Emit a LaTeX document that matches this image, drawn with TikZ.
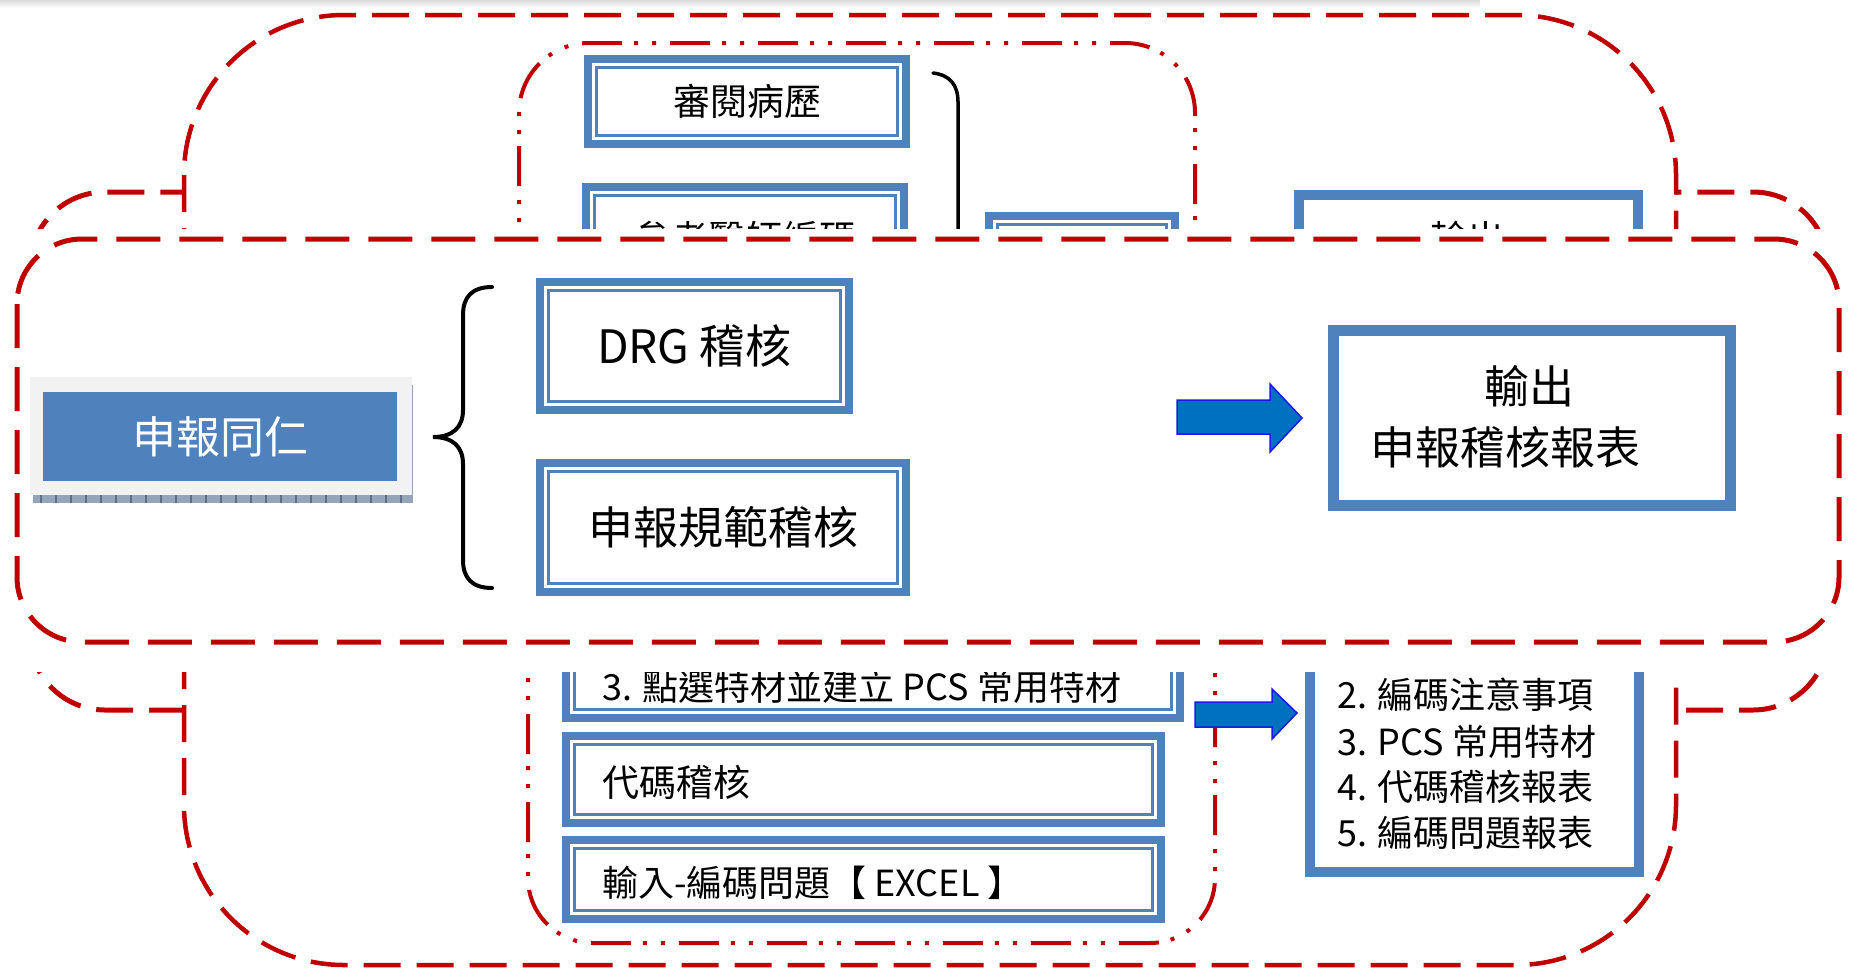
\documentclass[tikz,border=0pt]{standalone}
\usepackage{fontspec}
\setmainfont{Noto Sans CJK TC}
\definecolor{obl}{RGB}{79,129,189}
\definecolor{dred}{RGB}{192,0,0}
\definecolor{arf}{RGB}{0,112,192}
\definecolor{arb}{RGB}{25,25,240}
\definecolor{frm}{RGB}{242,242,242}
\definecolor{shd}{RGB}{150,164,186}
\definecolor{shdk}{RGB}{95,110,135}
\newcommand{\fsz}[1]{\fontsize{#1pt}{#1pt}\selectfont}
\tikzset{
  dashout/.style={draw=dred, line width=4.5pt, dash pattern=on 37pt off 16pt},
  dashmid/.style={draw=dred, line width=5pt, dash pattern=on 37pt off 16pt},
  dashov/.style={draw=dred, line width=5pt, dash pattern=on 44pt off 19pt},
  dashdt/.style={draw=dred, line width=4pt, dash pattern=on 40pt off 12pt on 4pt off 14pt on 4pt off 14pt},
  dblbox/.style={draw=obl, fill=white, line width=8pt, inner sep=0pt, outer sep=0pt,
    path picture={\draw[obl, line width=3pt] ([shift={(8.5pt,-8.5pt)}]path picture bounding box.north west) rectangle ([shift={(-8.5pt,8.5pt)}]path picture bounding box.south east);}},
  sglbox/.style={draw=obl, fill=white, line width=10pt, inner sep=0pt, outer sep=0pt},
  blockarrow/.style={fill=arf, draw=arb, line width=1.5pt, line join=miter},
  ltxt/.style={inner sep=0pt, anchor=west},
}
\begin{document}
\begin{tikzpicture}[x=1pt,y=-1pt]
\useasboundingbox (0,0) rectangle (1851,970);
\fill[white] (0,0) rectangle (1851,970);
\shade[top color=black!14, bottom color=white] (0,0) rectangle (1480,8);
% ---------------- background layer ----------------
\draw[dashmid, rounded corners=75pt] (30,192) rectangle (1828,710);
\draw[dashout, fill=white, rounded corners=160pt] (184,15) rectangle (1676,965);
\draw[dashdt, rounded corners=70pt] (519,450) -- (519,43) -- (1195,43) -- (1195,450);
\draw[dashdt, rounded corners=65pt] (528,450) -- (528,943) -- (1215,943) -- (1215,450);
% upper boxes
\node[dblbox, minimum width=318pt, minimum height=85pt, font=\fsz{37}] (review) at (747,101.5) {審閱病歷};
\node[dblbox, minimum width=318pt, minimum height=99pt] (refbox) at (745,236.5) {};
\node[font=\fsz{37}] (reftxt) at (745,238) {參考醫師編碼};
\draw[line width=3.5pt, line cap=round] (933,73) .. controls (950,75) and (958,85) .. (958,102) -- (958,320);
\node[dblbox, minimum width=186pt, minimum height=92pt] (smallbox) at (1082,262) {};
\node[sglbox, minimum width=339pt, minimum height=210pt] (outbg) at (1468.5,300) {};
\node[font=\fsz{37}] (outbgtxt) at (1467,238) {輸出};
% lower boxes
\node[dblbox, minimum width=614pt, minimum height=114pt] (pcsbox) at (873,661) {};
\node[ltxt, font=\fsz{36}] (pcstxt) at (602,687) {3. 點選特材並建立 PCS 常用特材};
\node[dblbox, minimum width=595pt, minimum height=87pt] (codebox) at (863.5,779.5) {};
\node[ltxt, font=\fsz{37}] (codetxt) at (602,782) {代碼稽核};
\node[dblbox, minimum width=595pt, minimum height=79pt] (inbox) at (863.5,879.5) {};
\node[ltxt, font=\fsz{36}] (intxt) at (602,883) {輸入-編碼問題【 EXCEL 】};
\path[blockarrow] (1195,702) -- (1272,702) -- (1272,689) -- (1297,713) -- (1272,739) -- (1272,727) -- (1195,727) -- cycle;
\node[sglbox, minimum width=329pt, minimum height=307pt] (listbox) at (1474.5,718.5) {};
\node[ltxt, font=\fsz{36}] (l2) at (1337,695) {2. 編碼注意事項};
\node[ltxt, font=\fsz{36}] (l3) at (1337,742) {3. PCS 常用特材};
\node[ltxt, font=\fsz{36}] (l4) at (1337,787) {4. 代碼稽核報表};
\node[ltxt, font=\fsz{36}] (l5) at (1337,833) {5. 編碼問題報表};
% ---------------- overlay layer ----------------
\fill[white] (0,229) rectangle (1851,672);
\draw[dashov, rounded corners=65pt] (17,239) rectangle (1839,642);
% staff box with shadow
\fill[shd] (33,495) rectangle (413,503);
\fill[shd] (410,385) rectangle (413,503);
\draw[shdk, line width=8pt, dash pattern=on 1.5pt off 13.5pt] (40,499) -- (413,499);
\node[fill=frm, minimum width=382pt, minimum height=118pt, inner sep=0pt, outer sep=0pt] (staffbg) at (221,436) {};
\node[fill=obl, minimum width=354pt, minimum height=89pt, inner sep=0pt, text=white, font=\fsz{44}] (staff) at (220,436.5) {申報同仁};
% brace
\draw[line width=4pt, line cap=round] (492,287) .. controls (472,287) and (463,297) .. (463,315) -- (463,410) .. controls (463,428) and (452,437) .. (433,437) .. controls (452,437) and (463,446) .. (463,464) -- (463,560) .. controls (463,578) and (472,588) .. (492,588);
\node[dblbox, minimum width=309pt, minimum height=128pt, font=\fsz{46}] (drg) at (694.5,346) {DRG 稽核};
\node[dblbox, minimum width=366pt, minimum height=129pt, font=\fsz{45}] (norm) at (723,527.5) {申報規範稽核};
\path[blockarrow] (1177,400) -- (1270,400) -- (1270,384) -- (1302,418) -- (1270,452) -- (1270,434) -- (1177,434) -- cycle;
\node[sglbox, line width=11pt, minimum width=397pt, minimum height=175pt] (outbox) at (1532,418) {};
\node[font=\fsz{45}] (out1) at (1529,386) {輸出};
\node[font=\fsz{45}] (out2) at (1505,447) {申報稽核報表};
\end{tikzpicture}
\end{document}
